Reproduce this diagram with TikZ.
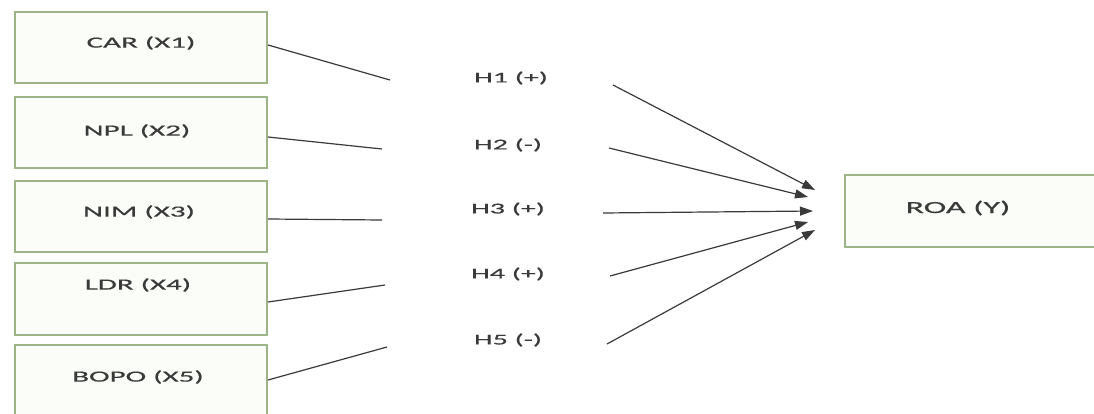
\documentclass[tikz,border=0pt]{standalone}
\usepackage{fontspec}
\setmainfont{Carlito}[FakeStretch=2.0, FakeBold=0.5]
\usetikzlibrary{arrows.meta}
\definecolor{boxedge}{HTML}{9DB489}
\definecolor{boxfill}{HTML}{FBFDF8}
\definecolor{ink}{HTML}{3A3A3A}
\tikzset{
  varbox/.style={draw=boxedge, fill=boxfill, line width=2pt, minimum width=252pt, inner sep=0pt},
  txt/.style={text=ink, font=\fontsize{15.5}{18}\selectfont, inner sep=0pt},
  htxt/.style={text=ink, font=\fontsize{15}{17}\selectfont, inner sep=0pt},
  link/.style={draw=ink, line width=1.2pt},
  arr/.style={draw=ink, line width=1.2pt, -{Triangle[length=13pt,width=9pt]}}
}
\begin{document}
\begin{tikzpicture}[x=1pt,y=-1pt]
\clip (0,0) rectangle (1094,414);
\fill[white] (0,0) rectangle (1094,414);
% boxes
\node[varbox, minimum height=71pt] (car) at (141,47.5) {};
\node[varbox, minimum height=71pt] (npl) at (141,132.5) {};
\node[varbox, minimum height=71pt] (nim) at (141,216.5) {};
\node[varbox, minimum height=72pt] (ldr) at (141,299) {};
\node[varbox, minimum height=75pt] (bopo) at (141,382.5) {};
\node[draw=boxedge, fill=boxfill, line width=2pt, minimum width=290pt, minimum height=72pt, inner sep=0pt] (roa) at (990,211) {};
% box texts
\node[txt] (tcar) at (141,43) {CAR (X1)};
\node[txt] (tnpl) at (137,131) {NPL (X2)};
\node[txt] (tnim) at (139,212) {NIM (X3)};
\node[txt] (tldr) at (138,285) {LDR (X4)};
\node[txt] (tbopo) at (138,377) {BOPO (X5)};
\node[txt, font=\fontsize{17}{19}\selectfont] (troa) at (958,208) {ROA (Y)};
% hypothesis labels
\node[htxt] (h1) at (511,78) {H1 (+)};
\node[htxt] (h2) at (508,145) {H2 (-)};
\node[htxt] (h3) at (508,209) {H3 (+)};
\node[htxt] (h4) at (508,274) {H4 (+)};
\node[htxt] (h5) at (508,340) {H5 (-)};
% free ends
\coordinate (e1) at (390,80);
\coordinate (e2) at (382,149);
\coordinate (e3) at (382,220);
\coordinate (e4) at (385,285);
\coordinate (e5) at (387,347);
\coordinate (s1) at (613,85);
\coordinate (s2) at (609,148);
\coordinate (s3) at (603,213);
\coordinate (s4) at (610,276);
\coordinate (s5) at (607,344);
\coordinate (t1) at (815,190);
\coordinate (t2) at (808,197);
\coordinate (t3) at (813,211);
\coordinate (t4) at (808,222);
\coordinate (t5) at (815,230);
% connectors
\draw[link] ([yshift=2.5pt]car.east) -- (e1);
\draw[link] ([yshift=-4.5pt]npl.east) -- (e2);
\draw[link] ([yshift=-2.5pt]nim.east) -- (e3);
\draw[link] ([yshift=-3pt]ldr.east) -- (e4);
\draw[link] ([yshift=2.5pt]bopo.east) -- (e5);
\draw[arr] (s1) -- (t1);
\draw[arr] (s2) -- (t2);
\draw[arr] (s3) -- (t3);
\draw[arr] (s4) -- (t4);
\draw[arr] (s5) -- (t5);
\end{tikzpicture}
\end{document}
